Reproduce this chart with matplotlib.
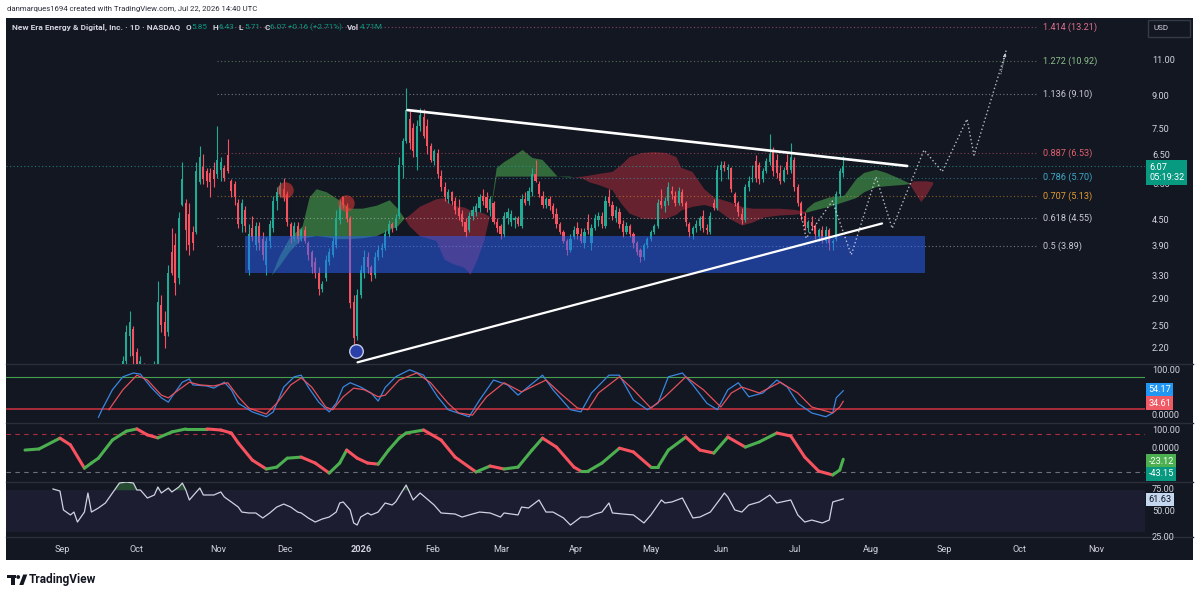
import numpy as np
import matplotlib
matplotlib.use('Agg')
import matplotlib.pyplot as plt
from matplotlib.patches import Rectangle, Polygon, Circle
from matplotlib.collections import LineCollection

plt.rcParams['font.family'] = ['Roboto', 'DejaVu Sans']

# ---------------- data ----------------
first_bar = 28
opens = [1.95,2.05,2.35,2.45,2.15,1.95,2.00,1.85,1.80,1.90,2.00,2.80,2.55,2.40,3.75,3.90,3.25,4.90,4.95,4.65,
         4.20,4.20,5.55,6.05,5.90,5.85,5.95,5.80,5.95,6.00,6.45,5.60,5.50,4.95,4.40,4.75,3.40,4.30,3.90,4.35,
         4.05,3.50,4.00,4.30,5.00,5.20,5.35,5.20,4.40,4.05,4.35,4.05,4.25,3.95,3.75,3.55,3.35,3.05,3.25,3.55,
         3.70,3.90,4.50,5.10,4.85,4.55,2.85,2.35,2.95,3.35,3.65,3.45,3.30,3.65,3.80,3.85,4.15,4.40,4.30,4.60,
         6.10,7.00,7.90,7.50,6.40,7.60,8.00,7.60,6.80,6.25,6.55,5.75,5.40,5.05,5.25,5.00,4.80,4.65,4.45,4.25,
         4.60,4.70,4.80,5.15,5.10,4.75,4.95,4.45,4.35,4.15,4.55,4.45,4.50,4.55,4.35,5.05,5.00,5.25,5.80,5.50,
         5.15,4.90,5.05,4.85,4.65,4.40,4.20,4.00,3.80,4.10,4.30,4.15,3.95,4.45,3.95,4.30,4.50,4.60,4.35,5.10,
         4.90,4.55,4.70,4.40,4.20,4.35,4.15,3.95,3.80,3.65,3.90,4.05,4.20,4.35,5.00,4.85,5.00,5.30,5.15,4.95,
         5.25,4.95,4.40,4.15,4.30,4.35,4.60,4.30,4.20,4.95,4.80,5.95,6.10,5.95,6.00,5.20,4.95,4.65,4.50,5.40,
         5.65,6.25,6.10,5.65,5.90,6.20,6.65,6.30,5.85,5.60,6.20,5.95,6.30,5.40,4.95,4.60,4.30,4.45,4.35,4.10,
         4.25,4.00,4.25,3.95,4.05,5.20,5.85]
highs = [2.10,2.50,2.70,2.48,2.20,2.10,2.02,1.95,1.95,2.05,3.20,2.95,2.70,3.50,4.30,4.18,4.70,6.20,5.05,4.95,
         4.35,6.20,6.80,6.50,6.00,6.00,6.20,7.60,6.40,6.10,7.05,5.65,5.60,5.05,5.05,4.85,4.40,4.60,4.45,4.45,
         4.20,4.10,4.50,5.15,5.40,5.55,5.70,5.30,4.45,4.45,4.45,4.30,4.35,4.00,3.80,3.65,3.45,3.20,3.70,3.85,
         4.10,4.75,5.05,5.15,4.95,4.60,2.95,3.05,3.50,3.80,3.75,3.50,3.75,3.90,3.95,4.25,4.50,4.45,4.65,6.40,
         7.10,9.40,8.30,7.75,7.85,8.40,8.35,7.90,6.90,6.70,6.70,5.95,5.55,5.35,5.30,5.10,5.05,4.75,4.55,4.70,
         4.85,4.95,5.20,5.35,5.25,5.15,5.00,4.55,4.40,4.70,4.80,4.75,4.60,4.60,5.20,5.25,5.40,6.00,6.30,5.60,
         5.30,5.10,5.15,4.95,4.80,4.45,4.25,4.05,4.15,4.35,4.45,4.30,4.30,4.65,4.40,4.65,4.70,4.70,5.15,5.35,
         5.00,4.85,4.80,4.50,4.45,4.40,4.20,4.00,3.85,3.95,4.10,4.25,4.40,5.05,5.35,5.10,5.55,5.45,5.30,5.40,
         5.35,5.00,4.45,4.35,4.50,4.60,4.75,4.40,4.70,5.05,6.10,6.25,6.25,6.15,6.05,5.25,5.00,4.80,5.50,5.75,
         6.10,6.45,6.20,6.00,6.35,7.25,6.75,6.50,6.10,6.05,6.50,6.90,6.40,5.50,5.00,4.70,4.50,4.60,4.40,4.30,
         4.35,4.35,4.30,4.05,5.30,6.00,6.43]
lows = [1.90,2.00,2.10,2.00,1.90,1.85,1.80,1.75,1.75,1.85,1.98,2.40,2.20,2.35,3.30,2.95,3.15,4.85,3.80,3.70,
        3.80,4.15,5.50,5.50,5.40,5.10,5.40,5.70,5.60,5.60,5.85,5.10,4.90,4.30,4.20,4.20,3.30,4.00,3.80,3.80,
        3.60,3.30,3.85,4.20,4.75,5.10,5.00,4.35,3.95,4.00,3.95,4.00,3.95,3.60,3.35,3.25,2.95,3.00,3.20,3.50,
        3.65,3.85,4.40,4.80,4.45,2.75,2.12,2.30,2.90,3.25,3.35,3.20,3.25,3.60,3.65,3.80,4.10,4.20,4.25,4.55,
        5.70,6.90,6.70,6.40,5.95,7.40,7.10,6.50,6.20,6.10,5.70,5.30,5.00,4.95,4.90,4.65,4.50,4.35,4.10,4.20,
        4.50,4.60,4.70,4.90,4.70,4.60,4.40,4.20,4.05,4.10,4.40,4.35,4.30,4.35,4.30,4.90,4.90,5.15,5.55,5.10,
        4.80,4.80,4.75,4.55,4.30,4.15,3.95,3.70,3.75,4.05,4.05,3.95,3.85,4.15,3.80,4.25,4.35,4.30,4.30,4.85,
        4.50,4.45,4.30,4.10,4.15,4.10,3.85,3.70,3.55,3.60,3.85,4.00,4.15,4.30,4.80,4.70,4.90,5.05,4.85,4.90,
        4.85,4.35,4.10,4.05,4.20,4.25,4.20,4.15,4.15,4.75,4.75,5.60,5.90,5.65,5.25,4.85,4.60,4.40,4.45,5.30,
        5.55,5.55,5.50,5.55,5.85,6.10,5.75,5.70,5.50,5.55,5.80,5.85,5.30,4.85,4.50,4.25,4.20,4.25,4.05,4.00,
        3.95,3.95,3.80,3.80,4.00,5.10,5.71]
closes = [2.05,2.40,2.55,2.10,1.95,2.05,1.85,1.80,1.90,2.00,2.85,2.50,2.35,3.35,3.35,3.17,4.55,5.65,4.25,3.90,
          3.95,5.90,6.40,5.65,5.60,5.55,5.65,6.30,6.20,5.70,5.90,5.30,5.10,4.40,4.95,4.35,4.15,4.10,4.35,3.95,
          3.70,4.00,4.40,5.00,5.25,5.45,5.10,4.45,4.10,4.35,4.05,4.25,4.00,3.70,3.45,3.35,3.05,3.15,3.60,3.75,
          4.00,4.55,4.90,4.90,4.55,2.82,2.33,2.95,3.40,3.65,3.45,3.30,3.65,3.80,3.85,4.15,4.40,4.30,4.55,6.10,
          7.00,8.30,6.90,6.60,7.60,8.10,7.20,6.80,6.30,6.60,5.80,5.40,5.10,5.25,5.00,4.75,4.60,4.45,4.20,4.60,
          4.75,4.85,5.10,5.00,4.80,5.05,4.45,4.30,4.15,4.60,4.70,4.65,4.55,4.40,5.05,4.95,5.30,5.80,5.60,5.20,
          4.90,5.05,4.85,4.65,4.40,4.20,4.00,3.80,4.05,4.25,4.15,4.00,4.20,4.25,4.30,4.55,4.60,4.40,5.00,4.95,
          4.60,4.75,4.40,4.20,4.35,4.15,3.95,3.75,3.65,3.90,4.05,4.20,4.35,4.95,4.90,5.00,5.40,5.20,4.95,5.30,
          4.95,4.45,4.20,4.30,4.40,4.55,4.30,4.25,4.60,4.80,5.95,6.10,6.00,6.05,5.35,4.95,4.70,4.50,5.40,5.60,
          5.70,5.70,5.65,5.90,6.25,6.50,5.90,5.85,5.60,5.95,5.95,6.40,5.40,4.95,4.60,4.35,4.45,4.35,4.15,4.25,
          4.05,4.25,3.95,4.00,5.20,5.90,6.07]

# Ichimoku cloud (leading spans, shifted forward)
cloud_bar = [70.6,72.9,75.7,79.4,81.4,83.4,86.3,89.4,92.9,96.6,100.6,104.3,106.6,108.6,
             110,112.9,117.7,120,122.3,125.7,127.4,129.4,131.4,132.9,
             134.9,137.1,139.4,142.3,145.1,148,150.6,152.3,155.7,159.4,
             161.4,164.3,168,170.6,172.9,176.6,180,183.4,186.3,187.7,190.9,194.3,197.1,201.4,205.1,208,211.4,215.7,220,222.9,
             223.7,225.7,230,234.3,237.7,240,243.4,246.3,250,252.9,
             254.3,256.3,258,259.7]
span_a = [3.30,3.68,4.06,4.34,5.10,5.34,5.25,5.05,4.79,4.79,4.87,5.02,4.79,4.53,
          4.34,4.11,4.00,3.60,3.52,3.44,3.31,3.60,4.02,4.58,
          6.01,6.22,6.39,6.65,6.36,6.29,5.95,5.73,5.73,5.67,
          5.55,5.46,5.31,4.92,4.66,4.53,4.51,4.53,4.63,4.74,4.84,4.89,4.82,4.53,4.36,4.43,4.56,4.61,4.63,4.66,
          4.79,4.95,5.10,5.15,5.64,5.85,5.95,5.85,5.67,5.52,
          5.28,4.97,5.19,5.49]
span_b = [3.30,3.48,3.76,4.06,4.08,4.11,4.08,4.04,4.04,4.06,4.11,4.25,4.34,4.53,
          4.61,4.84,5.05,5.08,4.87,4.82,4.74,4.71,4.66,4.58,
          5.73,5.73,5.73,5.73,5.73,5.73,5.73,5.73,5.70,5.73,
          5.76,5.82,5.88,6.12,6.39,6.54,6.57,6.54,6.39,6.02,5.88,5.34,5.10,4.97,4.84,4.79,4.79,4.79,4.76,4.71,
          4.69,4.74,4.84,4.97,5.08,5.25,5.40,5.43,5.46,5.49,
          5.58,5.58,5.58,5.55]

# Fibonacci levels
fib_levels = ['1.414', '1.272', '1.136', '0.887', '0.786', '0.707', '0.618', '0.5']
fib_prices = [13.21, 10.92, 9.10, 6.53, 5.70, 5.13, 4.55, 3.89]
fib_colors = ['#e0708f', '#8dbf8b', '#c8cad2', '#e0606e', '#3fa9c9', '#e39b32', '#c8cad2', '#c8cad2']
fib_span = [55, 289]

# drawings
box_bars = [62.9, 257.4]
box_prices = [3.34, 4.11]
upper_line_bar = [109.4, 252.3]
upper_line_price = [8.31, 6.08]
lower_line_bar = [95.1, 245.1]
lower_line_price = [2.03, 4.41]
zz_bar = [221.9, 223.4, 230.9, 236.3, 243.4, 248.0, 257.1, 262.3, 269.4, 271.4, 280.6]
zz_price = [4.66, 4.06, 5.00, 3.70, 5.72, 4.29, 6.65, 5.89, 7.90, 6.46, 11.6]
red_marks_bar = [74.3, 91.7]
red_marks_price = [5.31, 4.95]
blue_mark_bar = [94.6]
blue_mark_price = [2.16]
last_price = 6.07

price_ticks = [11.0, 9.0, 7.5, 6.5, 5.5, 4.5, 3.9, 3.3, 2.9, 2.5, 2.2]

# Stochastic RSI
stk_bar = [21,22,25,28,31,33,36,39,41,42,45,47,48,52,54,57,59,61,65,69,71,74,77,79,81,84,87,89,91,93,
           96,99,101,103,106,110,114,118,121,127,130,134,138,141,148,151,156,159,162,167,170,174,178,181,184,
           188,191,195,198,201,204,207,211,215,218,221,225,229,231,232,234]
stk_val = [5,19,56,80,87,85,61,41,33,43,70,76,65,63,59,70,56,31,15,6,15,61,80,83,61,33,15,31,61,69,
           61,50,35,60,80,93,83,43,19,6,37,74,65,46,83,56,19,15,50,83,83,37,19,31,80,
           87,65,31,19,56,69,43,50,74,61,31,13,6,13,41,54.17]
std_bar = [24,28,32,35,39,41,44,47,50,54,58,61,64,69,72,76,79,82,86,88,91,94,97,101,103,107,112,116,121,124,
           128,132,137,142,149,153,158,161,164,170,174,179,183,189,194,199,202,205,210,216,221,225,231,233,234]
std_val = [19,56,83,74,46,41,56,70,65,63,69,43,22,11,31,65,78,61,24,19,43,59,56,43,46,74,87,69,31,13,
           9,43,69,52,74,50,22,19,50,80,56,22,43,80,56,24,50,61,50,70,50,24,13,24,34.61]

# WaveTrend-style oscillator
wt_bar = [0,4,10,13,17,19,21,25,29,32,35,38,42,46,52,56,59,61,65,69,72,75,79,83,87,90,92,95,98,101,
          104,107,109,114,119,123,129,133,137,141,145,148,152,157,159,161,165,170,174,179,181,184,189,193,197,
          201,206,210,215,219,223,227,231,233,234]
wt_val = [11,15,55,30,-56,-37,-19,48,81,89,67,56,78,89,89,85,74,37,-26,-59,-52,-19,-15,-37,-74,-37,11,-19,-37,-41,
          11,55,74,85,48,-15,-70,-48,-59,-52,11,55,22,-52,-67,-67,-37,18,4,-52,-52,11,59,11,0,
          59,22,41,74,63,-15,-67,-81,-63,-23]

# RSI
rsi_bar = [8,10,11,13,14,15,17,18,19,21,23,25,27,29,31,32,33,35,37,38,39,41,42,44,45,46,47,49,50,51,
           53,54,56,57,59,61,62,64,66,68,70,72,74,76,78,79,81,83,85,87,89,90,91,93,94,95,96,98,99,101,
           103,105,106,109,111,113,117,119,123,125,127,130,133,136,137,141,142,144,147,149,151,154,156,159,161,
           163,165,167,168,171,174,177,179,182,183,185,188,191,193,196,199,200,201,203,205,207,210,213,215,219,
           221,223,225,228,230,231,233,234]
rsi_val = [71.2,69.2,51,46.2,49,39.4,49,67.3,49,52.9,57.7,67.3,76.9,77.9,76.9,70.2,70.2,62.5,65.4,73.1,67.3,72.1,68.3,73.1,76.9,70.2,60.6,68.3,72.1,65.4,
           65.4,65.4,68.3,63.5,58.7,53.8,49,48.1,48.1,43.3,48.1,53.8,56.7,53.8,49,48.1,43.3,39.4,42.3,44.2,49,57.7,58.7,51,38.5,36.5,44.2,48.1,46.2,49,
           57.7,55.8,58.7,75,60.6,67.3,55.8,48.1,47.1,44.2,46.2,49,48.1,44.2,48.1,46.2,53.8,52.9,60.6,49,49,43.3,36.5,44.2,44.2,
           47.1,49,57.7,48.1,47.1,46.2,38.5,46.2,60.6,57.7,58.7,62.5,43.3,44.2,49,62.5,67.3,63.5,51,49,55.8,58.7,65.4,57.7,60.6,
           46.2,39.4,41.3,38.5,41.3,58.7,60.6,61.63]

month_pos = [10.6, 32, 55.4, 74.3, 96.3, 116.6, 136.3, 157.7, 178.9, 199.1, 220.3, 242, 262.9, 284.3, 306.3]
month_lab = ['Sep', 'Oct', 'Nov', 'Dec', '2026', 'Feb', 'Mar', 'Apr', 'May', 'Jun', 'Jul', 'Aug', 'Sep', 'Oct', 'Nov']

header_title = 'New Era Energy & Digital, Inc. · 1D · NASDAQ'
header_fields = [('O', '5.85'), ('H', '6.43'), ('L', '5.71'), ('C', '6.07 +0.16 (+2.71%)'), ('Vol', '4.71M')]

# ---------------- style ----------------
W, H = 1200, 600
BG = '#131722'
TXT = '#d1d4dc'
SEP = '#2a2e39'
UP = '#22ab94'
DN = '#f7525f'
X_LEFT, X_RIGHT = -5.43, 320.3

fig = plt.figure(figsize=(12, 6), dpi=100)
fig.patch.set_facecolor('white')

bg = fig.add_axes([0, 0, 1, 1])
bg.set_xlim(0, W)
bg.set_ylim(H, 0)
bg.axis('off')
bg.set_zorder(-5)
bg.add_patch(Rectangle((6, 18), 1187, 542, color=BG, lw=0))
for yy in (364, 423, 482, 537):
    bg.plot([6, 1193], [yy, yy], color=SEP, lw=1)
bg.add_patch(Rectangle((1148, 20), 42, 17, fc=BG, ec='#363a45', lw=1))
# TradingView logo
bg.add_patch(Rectangle((7, 574.5), 8.5, 3.4, color='#131722', lw=0))
bg.add_patch(Rectangle((11.2, 574.5), 3.6, 10.5, color='#131722', lw=0))
bg.add_patch(Circle((18.2, 577.0), 1.9, color='#131722', lw=0))
bg.add_patch(Polygon([(19.3, 585), (23.2, 574.5), (27.3, 574.5), (23.4, 585)], closed=True, color='#131722', lw=0))
bg.text(29, 580, 'TradingView', fontsize=8.6, fontweight='bold', color='#131722', va='center', ha='left')


def pane(y0, y1):
    a = fig.add_axes([6 / W, 1 - y1 / H, 1139 / W, (y1 - y0) / H])
    a.set_facecolor('none')
    for sp in a.spines.values():
        sp.set_visible(False)
    a.set_xlim(X_LEFT, X_RIGHT)
    a.tick_params(axis='x', length=0, labelbottom=False)
    a.yaxis.tick_right()
    a.tick_params(axis='y', length=0, pad=5, labelsize=6.6, labelcolor=TXT)
    return a


def scale_label(a, val, text, va='center'):
    a.annotate(text, xy=(1, val), xycoords=('axes fraction', 'data'), xytext=(5, 0),
               textcoords='offset points', fontsize=6.6, color=TXT, ha='left', va=va,
               annotation_clip=False)


# ---------------- main price pane ----------------
ax = pane(18, 364)
ax.set_yscale('log')

o = np.array(opens); h = np.array(highs); l = np.array(lows); c = np.array(closes)
bars = np.arange(first_bar, first_bar + len(c))
col = np.where(c >= o, UP, DN)

cb = np.array(cloud_bar); sa = np.array(span_a); sb = np.array(span_b)
ax.fill_between(cb, sa, sb, where=sa >= sb, interpolate=True, color='#4caf50', alpha=0.55, lw=0, zorder=2)
ax.fill_between(cb, sa, sb, where=sa < sb, interpolate=True, color='#f23645', alpha=0.38, lw=0, zorder=2)

ax.vlines(bars, l, h, colors=col, lw=0.8, zorder=3)
ax.bar(bars, np.maximum(np.abs(c - o), 0.012), bottom=np.minimum(o, c), width=0.62,
       color=col, lw=0, zorder=3)

ax.add_patch(Rectangle((box_bars[0], box_prices[0]), box_bars[1] - box_bars[0],
                       box_prices[1] - box_prices[0], fc='#2962ff', alpha=0.5, lw=0, zorder=4))

for lev, pr, fc in zip(fib_levels, fib_prices, fib_colors):
    ax.plot(fib_span, [pr, pr], ls=(0, (1, 2.2)), color=fc, alpha=0.55, lw=0.8, zorder=2.5)
    ax.text(fib_span[1] + 2, pr, f'{lev} ({pr:.2f})', color=fc, fontsize=6.6, va='center', ha='left', zorder=6)

ax.axhline(last_price, ls=(0, (1, 2.2)), color='#26a69a', alpha=0.7, lw=0.8, zorder=2.5)

ax.plot(upper_line_bar, upper_line_price, color='white', lw=1.9, zorder=5, solid_capstyle='round')
ax.plot(lower_line_bar, lower_line_price, color='white', lw=1.6, zorder=5, solid_capstyle='round')

ax.plot(zz_bar, zz_price, ls=(0, (1, 1.8)), color='#e0e3eb', alpha=0.8, lw=1.0, zorder=5)
ax.annotate('', xy=(zz_bar[-1], zz_price[-1]), xytext=(zz_bar[-2] + 7.5, zz_price[-2] * 1.55),
            arrowprops=dict(arrowstyle='-|>', color='#e0e3eb', lw=0.6, alpha=0.8,
                            mutation_scale=5, linestyle=':'), zorder=5)

ax.scatter(red_marks_bar, red_marks_price, s=140, color='#e53935', alpha=0.55, lw=0, zorder=5)
ax.scatter(blue_mark_bar, blue_mark_price, s=95, color='#2a3fa8', edgecolor='#c5cae9', lw=1.0, zorder=6)

ax.set_ylim(2.011, 13.9)
ax.set_yticks(price_ticks, [f'{t:.2f}' for t in price_ticks])
ax.set_yticks([], minor=True)
ax.set_xlim(X_LEFT, X_RIGHT)

# ---------------- Stoch RSI pane ----------------
s = pane(364, 423)
s.plot(stk_bar, stk_val, color='#3a86e0', lw=0.9, zorder=3)
s.plot(std_bar, std_val, color='#e5505c', lw=0.9, zorder=3)
s.axhline(80, color='#4caf50', lw=0.8, alpha=0.9)
s.axhline(20, color='#f23645', lw=1.1, alpha=0.85)
s.set_ylim(-5.6, 103.7)
s.set_yticks([])
scale_label(s, 100, '100.00', va='top')
scale_label(s, 0, '0.0000', va='bottom')

# ---------------- WaveTrend pane ----------------
w = pane(423, 482)
pts = np.column_stack([wt_bar, wt_val]).astype(float)
segs = np.stack([pts[:-1], pts[1:]], axis=1)
wcols = ['#4caf50' if b[1] >= a[1] else '#f7525f' for a, b in zip(pts[:-1], pts[1:])]
w.add_collection(LineCollection(segs, colors=wcols, linewidths=2.2, capstyle='round', zorder=3))
w.axhline(70, color='#f23645', lw=0.8, ls=(0, (4, 4)), alpha=0.7)
w.axhline(-70, color='#9598a1', lw=0.8, ls=(0, (4, 4)), alpha=0.7)
w.set_ylim(-107, 111)
w.set_yticks([])
scale_label(w, 100, '100.00', va='top')
scale_label(w, 0, '0.0000', va='bottom')

# ---------------- RSI pane ----------------
r = pane(482, 537)
r.axhspan(30, 70, color='#7e57c2', alpha=0.1, lw=0)
rv = np.array(rsi_val); rb = np.array(rsi_bar)
r.fill_between(rb, 70, rv, where=rv > 70, interpolate=True, color='#4caf50', alpha=0.35, lw=0)
r.plot(rsi_bar, rsi_val, color='#cfd2e0', lw=0.9, zorder=3)
r.set_ylim(25, 77.9)
r.set_yticks([])
scale_label(r, 75, '75.00', va='top')
scale_label(r, 50, '50.00')
scale_label(r, 25, '25.00')
r.set_xticks(month_pos, month_lab)
r.tick_params(axis='x', labelbottom=True, labelsize=6.6, labelcolor=TXT, pad=5.4)
r.get_xticklabels()[4].set_fontweight('bold')

# ---------------- overlay texts ----------------
def fy(y):
    return 1 - y / H

fig.text(7 / W, fy(9), 'danmarques1694 created with TradingView.com, Jul 22, 2026 14:40 UTC',
         fontsize=5.6, color='#2a2e39', va='center', ha='left')

# header: chain pieces using measured widths so nothing overlaps
renderer = fig.canvas.get_renderer()
cursor = 12.0
t = fig.text(cursor / W, fy(27), header_title, fontsize=6.0, fontweight='bold', color=TXT,
             va='center', ha='left')
cursor += t.get_window_extent(renderer).width + 5
for key, val in header_fields:
    t = fig.text(cursor / W, fy(27), key, fontsize=5.9, fontweight='bold', color=TXT, va='center', ha='left')
    cursor += t.get_window_extent(renderer).width + 0.8
    t = fig.text(cursor / W, fy(27), val, fontsize=5.9, color='#089981', va='center', ha='left')
    cursor += t.get_window_extent(renderer).width + 4.5

fig.text(1153 / W, fy(28.5), 'USD', fontsize=5.8, color=TXT, va='center', ha='left')


def tag(y, text, fc, tc='white'):
    fig.text(1148.5 / W, fy(y), text, fontsize=6.6, color=tc, va='center', ha='left',
             bbox=dict(boxstyle='square,pad=0.22', fc=fc, ec='none'))


fig.text(1149 / W, fy(172.5), '6.07\n05:19:32', fontsize=6.6, color='white', va='center', ha='left',
         linespacing=1.15, bbox=dict(boxstyle='square,pad=0.3', fc='#089981', ec='none'))
tag(389.5, '54.17', '#2196f3')
tag(403, '34.61', '#f05a64')
tag(461, '-23.12', '#4caf50')
tag(474, '-43.15', '#089981')
tag(499.5, '61.63', '#c5d7ee', tc='#131722')

fig.savefig('out.png', dpi=100, facecolor=fig.get_facecolor())
